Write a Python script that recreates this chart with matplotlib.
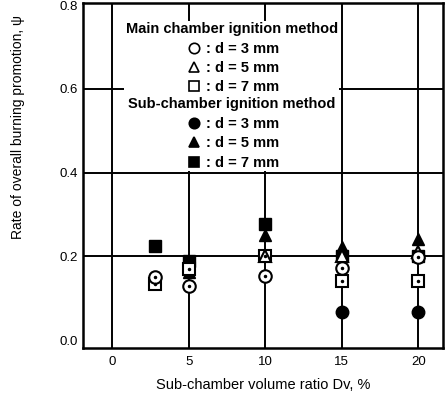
import matplotlib
matplotlib.use('Agg')
import matplotlib.pyplot as plt
from matplotlib.lines import Line2D

plt.rcParams['font.family'] = ['Liberation Sans', 'DejaVu Sans']

# ==================================================================
# data

# main chamber ignition (open markers)
main_x_3mm = [2.8, 5, 10, 15, 20]
main_y_3mm = [0.150, 0.130, 0.152, 0.172, 0.198]
main_x_5mm = [10, 15, 20]
main_y_5mm = [0.200, 0.200, 0.210]
main_x_7mm = [2.8, 5, 10, 15, 20]
main_y_7mm = [0.135, 0.170, 0.200, 0.142, 0.142]

# sub-chamber ignition (filled markers)
sub_x_3mm = [15, 20]
sub_y_3mm = [0.066, 0.066]
sub_x_5mm = [5, 10, 15, 20]
sub_y_5mm = [0.162, 0.250, 0.222, 0.242]
sub_x_7mm = [2.8, 5, 10, 15, 20]
sub_y_7mm = [0.225, 0.188, 0.277, 0.200, 0.200]

xticks = [0, 5, 10, 15, 20]
yticks = [0.0, 0.2, 0.4, 0.6, 0.8]
ytick_labels = ['0.0', '0.2', '0.4', '0.6', '0.8']

# ==================================================================

fig = plt.figure(figsize=(4.46, 3.95), dpi=100)
ax = fig.add_axes([0.186, 0.119, 0.807, 0.873])

# grid lines (vertical at ticks, horizontal 0.2 / 0.4 / 0.6)
for xv in xticks:
    ax.axvline(xv, color='k', lw=1.4, zorder=1)
for yv in yticks[1:-1]:
    ax.axhline(yv, color='k', lw=1.4, zorder=1)

ms = 9
# filled first, open drawn over them
ax.plot(sub_x_3mm, sub_y_3mm, 'o', ms=ms, mfc='k', mec='k', zorder=3)
ax.plot(sub_x_5mm, sub_y_5mm, '^', ms=ms, mfc='k', mec='k', zorder=3)
ax.plot(sub_x_7mm, sub_y_7mm, 's', ms=ms, mfc='k', mec='k', zorder=3)

ax.plot(main_x_7mm, main_y_7mm, 's', ms=ms - 1, mfc='w', mec='k', mew=1.5, zorder=4)
ax.plot(main_x_5mm, main_y_5mm, '^', ms=ms - 1, mfc='w', mec='k', mew=1.5, zorder=4)
ax.plot(main_x_3mm, main_y_3mm, 'o', ms=ms, mfc='w', mec='k', mew=1.5, zorder=5)
# centre dots of open symbols
ax.plot(main_x_3mm, main_y_3mm, '.', ms=3, color='k', zorder=6)
ax.plot(main_x_7mm, main_y_7mm, '.', ms=3, color='k', zorder=6)

ax.set_xlim(-1.9, 21.6)
ax.set_ylim(-0.019, 0.805)
ax.set_xticks(xticks)
ax.set_yticks(yticks)
ax.set_yticklabels(ytick_labels)
ax.tick_params(length=0, labelsize=9.5, pad=4)
ax.tick_params(axis='x', pad=6)

for sp in ax.spines.values():
    sp.set_linewidth(1.8)

ax.set_ylabel('Rate of overall burning promotion, \u03c8', fontsize=10, labelpad=16)
ax.yaxis.set_label_coords(-0.16, 0.64)
ax.set_xlabel('Sub-chamber volume ratio Dv, %', fontsize=10.5, labelpad=7)


def handles(filled):
    fc = 'k' if filled else 'w'
    return [Line2D([], [], ls='none', marker=m, ms=7.5, mfc=fc, mec='k', mew=1.2)
            for m in ['o', '^', 's']]


labels = [': d = 3 mm', ': d = 5 mm', ': d = 7 mm']
leg_kw = dict(loc='upper center', frameon=True, facecolor='w', edgecolor='none',
              framealpha=1, fancybox=False, borderpad=0.1, labelspacing=0.37,
              handletextpad=0.2, handlelength=1.2, prop={'size': 10.5, 'weight': 'bold'},
              title_fontproperties={'size': 10.5, 'weight': 'bold'})
leg1 = ax.legend(handles(False), labels, title='Main chamber ignition method',
                 bbox_to_anchor=(0.414, 0.97), **leg_kw)
leg1.set_zorder(7)
ax.add_artist(leg1)
leg2 = ax.legend(handles(True), labels, title='Sub-chamber ignition method',
                 bbox_to_anchor=(0.414, 0.752), **leg_kw)
leg2.set_zorder(7)

fig.savefig('out.png', dpi=100)
